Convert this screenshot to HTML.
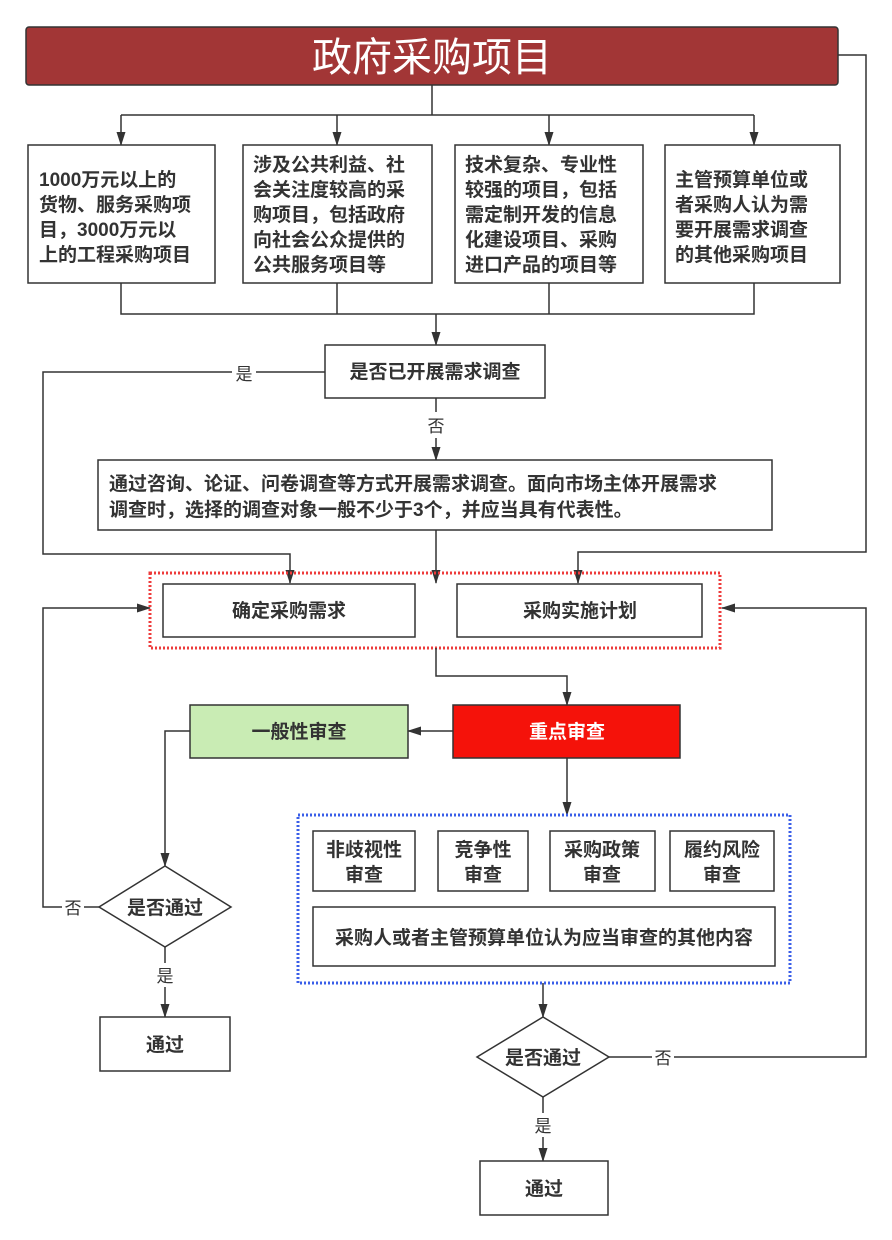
<!DOCTYPE html>
<html><head><meta charset="utf-8"><style>
html,body{margin:0;padding:0;background:#fff}
svg{display:block}
text{font-family:"Liberation Sans","Noto Sans CJK SC",sans-serif;fill:#333;font-weight:bold;font-size:19px}
.n{font-weight:normal;font-size:17px}
</style></head><body>
<svg width="892" height="1240" viewBox="0 0 892 1240" xmlns="http://www.w3.org/2000/svg">
<defs><marker id="a" viewBox="0 0 14 10" refX="13" refY="5" markerWidth="14" markerHeight="10" markerUnits="userSpaceOnUse" orient="auto"><path d="M0,0.5 L14,5 L0,9.5 z" fill="#333"/></marker></defs>
<g fill="none" stroke="#333" stroke-width="1.5">
<rect x="26" y="27" width="812" height="58" rx="3" fill="#a23636"/>
<path d="M432 85V115M121 115H754"/>
<path d="M121 115V145" marker-end="url(#a)"/>
<path d="M337 115V145" marker-end="url(#a)"/>
<path d="M549 115V145" marker-end="url(#a)"/>
<path d="M754 115V145" marker-end="url(#a)"/>
<rect x="28" y="145" width="187" height="138" fill="#fff"/>
<rect x="243" y="145" width="189" height="138" fill="#fff"/>
<rect x="455" y="145" width="188" height="138" fill="#fff"/>
<rect x="665" y="145" width="175" height="138" fill="#fff"/>
<path d="M121 283V314H754V283M337 283V314M549 283V314"/>
<path d="M436 314V345" marker-end="url(#a)"/>
<rect x="325" y="345" width="220" height="53" fill="#fff"/>
<path d="M436 398V412"/>
<path d="M436 438V460" marker-end="url(#a)"/>
<rect x="98" y="460" width="674" height="70" fill="#fff"/>
<path d="M325 372H256"/>
<path d="M232 372H43V554H290V583" marker-end="url(#a)"/>
<path d="M436 530V583" marker-end="url(#a)"/>
<path d="M838 55H866V552H578V583" marker-end="url(#a)"/>
<rect x="150" y="573" width="570" height="75" stroke="#ee3b3b" stroke-width="3" stroke-dasharray="2,2"/>
<rect x="163" y="584" width="252" height="53" fill="#fff"/>
<rect x="457" y="584" width="245" height="53" fill="#fff"/>
<path d="M436 648V676H567V705" marker-end="url(#a)"/>
<rect x="453" y="705" width="227" height="53" fill="#f5120a"/>
<rect x="190" y="705" width="218" height="53" fill="#c9ecb4"/>
<path d="M453 731H408" marker-end="url(#a)"/>
<path d="M190 731H165V866" marker-end="url(#a)"/>
<path d="M165 866L231 907L165 947L99 907Z" fill="#fff"/>
<path d="M99 907H84"/>
<path d="M62 907H43V608H150" marker-end="url(#a)"/>
<path d="M165 947V963"/>
<path d="M165 987V1017" marker-end="url(#a)"/>
<rect x="100" y="1017" width="130" height="54" fill="#fff"/>
<path d="M567 758V815" marker-end="url(#a)"/>
<rect x="298" y="815" width="492" height="168" stroke="#3a5ee8" stroke-width="3" stroke-dasharray="2,2"/>
<rect x="313" y="831" width="102" height="60" fill="#fff"/>
<rect x="438" y="831" width="90" height="60" fill="#fff"/>
<rect x="550" y="831" width="105" height="60" fill="#fff"/>
<rect x="670" y="831" width="104" height="60" fill="#fff"/>
<rect x="313" y="907" width="462" height="59" fill="#fff"/>
<path d="M543 983V1017" marker-end="url(#a)"/>
<path d="M543 1017L609 1057L543 1097L477 1057Z" fill="#fff"/>
<path d="M609 1057H652"/>
<path d="M674 1057H866V608H722" marker-end="url(#a)"/>
<path d="M543 1097V1113"/>
<path d="M543 1137V1161" marker-end="url(#a)"/>
<rect x="480" y="1161" width="128" height="54" fill="#fff"/>
</g>
<text x="432" y="71" text-anchor="middle" style="fill:#fff;font-size:40px;font-weight:normal">政府采购项目</text>
<g>
<text x="39" y="186">1000万元以上的</text>
<text x="39" y="211">货物、服务采购项</text>
<text x="39" y="236">目，3000万元以</text>
<text x="39" y="261">上的工程采购项目</text>
<text x="253" y="171">涉及公共利益、社</text>
<text x="253" y="196">会关注度较高的采</text>
<text x="253" y="221">购项目，包括政府</text>
<text x="253" y="246">向社会公众提供的</text>
<text x="253" y="271">公共服务项目等</text>
<text x="465" y="171">技术复杂、专业性</text>
<text x="465" y="196">较强的项目，包括</text>
<text x="465" y="221">需定制开发的信息</text>
<text x="465" y="246">化建设项目、采购</text>
<text x="465" y="271">进口产品的项目等</text>
<text x="675" y="186">主管预算单位或</text>
<text x="675" y="211">者采购人认为需</text>
<text x="675" y="236">要开展需求调查</text>
<text x="675" y="261">的其他采购项目</text>
<text x="435" y="378" text-anchor="middle">是否已开展需求调查</text>
<text class="n" x="244" y="380" text-anchor="middle">是</text>
<text class="n" x="436" y="432" text-anchor="middle">否</text>
<text x="109" y="490">通过咨询、论证、问卷调查等方式开展需求调查。面向市场主体开展需求</text>
<text x="109" y="516">调查时，选择的调查对象一般不少于3个，并应当具有代表性。</text>
<text x="289" y="617" text-anchor="middle">确定采购需求</text>
<text x="580" y="617" text-anchor="middle">采购实施计划</text>
<text x="567" y="738" text-anchor="middle" style="fill:#fff">重点审查</text>
<text x="299" y="738" text-anchor="middle">一般性审查</text>
<text x="165" y="914" text-anchor="middle">是否通过</text>
<text class="n" x="73" y="914" text-anchor="middle">否</text>
<text class="n" x="165" y="982" text-anchor="middle">是</text>
<text x="165" y="1051" text-anchor="middle">通过</text>
<text x="364" y="856" text-anchor="middle">非歧视性</text>
<text x="364" y="881" text-anchor="middle">审查</text>
<text x="483" y="856" text-anchor="middle">竞争性</text>
<text x="483" y="881" text-anchor="middle">审查</text>
<text x="602" y="856" text-anchor="middle">采购政策</text>
<text x="602" y="881" text-anchor="middle">审查</text>
<text x="722" y="856" text-anchor="middle">履约风险</text>
<text x="722" y="881" text-anchor="middle">审查</text>
<text x="544" y="944" text-anchor="middle">采购人或者主管预算单位认为应当审查的其他内容</text>
<text x="543" y="1064" text-anchor="middle">是否通过</text>
<text class="n" x="663" y="1064" text-anchor="middle">否</text>
<text class="n" x="543" y="1132" text-anchor="middle">是</text>
<text x="544" y="1195" text-anchor="middle">通过</text>
</g>
</svg>
</body></html>
